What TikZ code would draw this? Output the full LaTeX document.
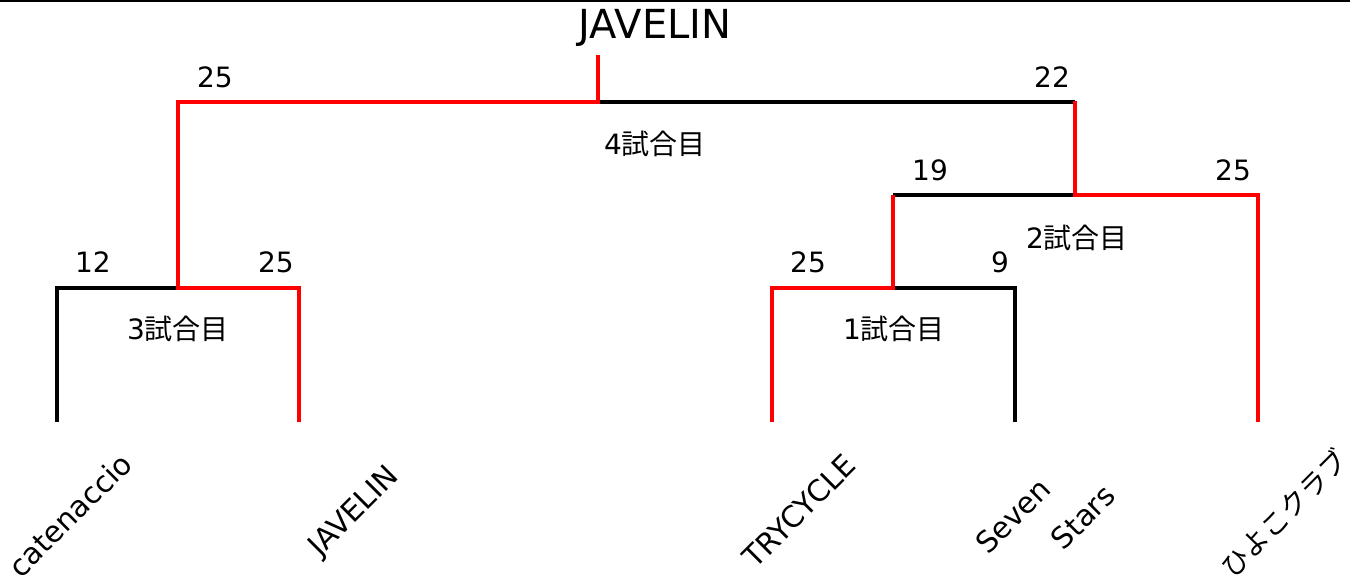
\documentclass[tikz,border=0pt]{standalone}
\usepackage{fontspec}
\setmainfont{DejaVu Sans}
\newfontfamily\jp{Noto Sans CJK JP}
\begin{document}
\begin{tikzpicture}[x=1pt,y=-1pt,
  win/.style={draw=red, line width=4.8pt, line join=miter},
  lose/.style={draw=black, line width=3.2pt, line join=miter},
  lbl/.style={font=\fontsize{28}{32}\selectfont, inner sep=0pt},
  team/.style={font=\fontsize{29.5}{34}\selectfont, inner sep=0pt, rotate=45},
  titlelbl/.style={font=\fontsize{40}{46}\selectfont, inner sep=0pt}]
\useasboundingbox (0,0) rectangle (1350,578);
% top border
\coordinate (bl) at (0,1);
\coordinate (br) at (1350,1);
\draw[black, line width=2.6pt] (bl) -- (br);

% bracket points
\coordinate (t1) at (57,422);
\coordinate (t2) at (299,422);
\coordinate (t3) at (772,422);
\coordinate (t4) at (1015,422);
\coordinate (t5) at (1258,422);
\coordinate (a1) at (57,288);
\coordinate (a2) at (299,288);
\coordinate (m3) at (178,288);
\coordinate (a3) at (772,288);
\coordinate (a4) at (1015,288);
\coordinate (m1) at (893,288);
\coordinate (b1) at (893,195);
\coordinate (b2) at (1258,195);
\coordinate (m2) at (1075,195);
\coordinate (c1) at (178,102);
\coordinate (c2) at (1075,102);
\coordinate (c2t) at (1075,100.5);
\coordinate (m4) at (598,102);
\coordinate (champ) at (598,55);

% losers (black)
\draw[lose] (t1) -- (a1) -- (m3);
\draw[lose] (t4) -- (a4) -- (m1);
\draw[lose] (b1) -- (m2);
\draw[lose] (m4) -- (c2);
% winners (red)
\draw[win] (t2) -- (a2) -- (m3) -- (c1) -- (m4) -- (champ);
\draw[win] (t3) -- (a3) -- (m1) -- (b1);
\draw[win] (t5) -- (b2) -- (m2) -- (c2t);

% title
\node[titlelbl] (champion) at (655,28) {JAVELIN};

% scores
\node[lbl] (s4l) at (215,77) {25};
\node[lbl] (s4r) at (1052,77) {22};
\node[lbl] (s2l) at (930,170) {19};
\node[lbl] (s2r) at (1233,170) {25};
\node[lbl] (s3l) at (93,262) {12};
\node[lbl] (s3r) at (276,262) {25};
\node[lbl] (s1l) at (808,262) {25};
\node[lbl] (s1r) at (1000,262) {9};

% match labels
\node[lbl] (g4) at (655,144) {4{\jp 試合目}};
\node[lbl] (g2) at (1077,238) {2{\jp 試合目}};
\node[lbl] (g1) at (894,329) {1{\jp 試合目}};
\node[lbl] (g3) at (178,329) {3{\jp 試合目}};

% teams
\node[team] (n1) at (70,515) {catenaccio};
\node[team] (n2) at (355,512) {JAVELIN};
\node[team] (n3) at (799,511) {TRYCYCLE};
\node[team] (n4a) at (1013,516) {Seven};
\node[team] (n4b) at (1083,517) {Stars};
\node[team, font=\fontsize{27.5}{32}\selectfont\jp] (n5) at (1284,513) {ひよこクラブ};
\end{tikzpicture}
\end{document}
